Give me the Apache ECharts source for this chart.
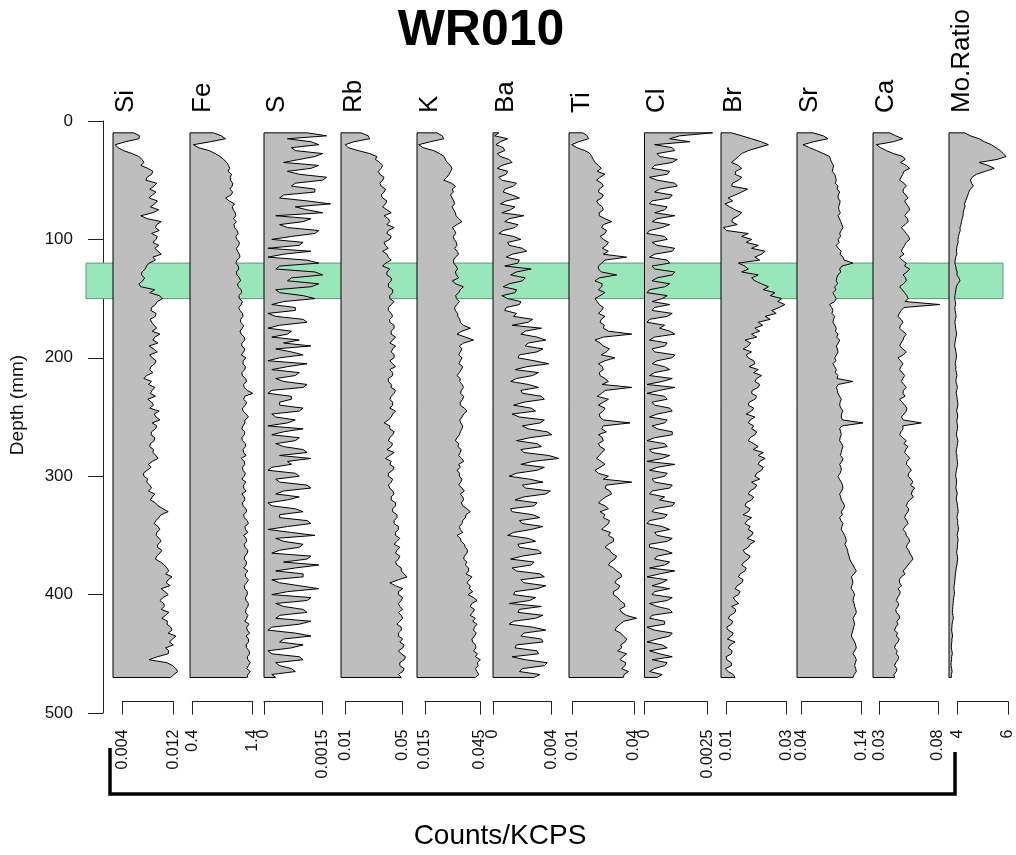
<!DOCTYPE html>
<html>
<head>
<meta charset="utf-8">
<script src="https://cdn.jsdelivr.net/npm/echarts@6/dist/echarts.min.js"></script>
<style>
html,body{margin:0;padding:0;background:#fff;}
#chart{width:1016px;height:855px;}
</style>
</head>
<body>
<div id="chart"></div>
<script>
// ---------------- DATA (scan every 2.5 mm) ----------------
const title = 'WR010';
const depth = [10,12.5,15,17.5,20,22.5,25,27.5,30,32.5,35,37.5,40,42.5,45,47.5,50,52.5,55,57.5,
  60,62.5,65,67.5,70,72.5,75,77.5,80,82.5,85,87.5,90,92.5,95,97.5,100,102.5,105,107.5,
  110,112.5,115,117.5,120,122.5,125,127.5,130,132.5,135,137.5,140,142.5,145,147.5,150,152.5,155,157.5,
  160,162.5,165,167.5,170,172.5,175,177.5,180,182.5,185,187.5,190,192.5,195,197.5,200,202.5,205,207.5,
  210,212.5,215,217.5,220,222.5,225,227.5,230,232.5,235,237.5,240,242.5,245,247.5,250,252.5,255,257.5,
  260,262.5,265,267.5,270,272.5,275,277.5,280,282.5,285,287.5,290,292.5,295,297.5,300,302.5,305,307.5,
  310,312.5,315,317.5,320,322.5,325,327.5,330,332.5,335,337.5,340,342.5,345,347.5,350,352.5,355,357.5,
  360,362.5,365,367.5,370,372.5,375,377.5,380,382.5,385,387.5,390,392.5,395,397.5,400,402.5,405,407.5,
  410,412.5,415,417.5,420,422.5,425,427.5,430,432.5,435,437.5,440,442.5,445,447.5,450,452.5,455,457.5,
  460,462.5,465,467.5,470];

const Si = [0.0058,0.0067,0.0066,0.0045,0.0029,0.0033,0.0042,0.0055,0.0066,0.0071,0.0074,0.0069,0.0080,0.0088,0.0086,0.0079,0.0077,0.0094,0.0090,0.0083,
  0.0093,0.0087,0.0082,0.0095,0.0091,0.0084,0.0097,0.0088,0.0069,0.0079,0.0101,0.0094,0.0092,0.0098,0.0086,0.0095,0.0093,0.0088,0.0097,0.0091,
  0.0096,0.0101,0.0088,0.0092,0.0082,0.0078,0.0076,0.0071,0.0070,0.0075,0.0072,0.0066,0.0069,0.0091,0.0083,0.0098,0.0103,0.0095,0.0092,0.0086,
  0.0085,0.0093,0.0092,0.0084,0.0086,0.0090,0.0094,0.0087,0.0099,0.0091,0.0088,0.0096,0.0082,0.0089,0.0095,0.0083,0.0087,0.0093,0.0091,0.0085,
  0.0083,0.0088,0.0078,0.0074,0.0086,0.0081,0.0091,0.0087,0.0084,0.0092,0.0080,0.0086,0.0089,0.0083,0.0098,0.0090,0.0093,0.0099,0.0087,0.0094,
  0.0092,0.0086,0.0085,0.0091,0.0090,0.0084,0.0083,0.0089,0.0088,0.0093,0.0096,0.0087,0.0081,0.0085,0.0079,0.0073,0.0074,0.0080,0.0078,0.0083,
  0.0086,0.0081,0.0091,0.0087,0.0084,0.0092,0.0096,0.0104,0.0112,0.0101,0.0097,0.0093,0.0090,0.0096,0.0099,0.0094,0.0093,0.0098,0.0101,0.0096,
  0.0095,0.0102,0.0099,0.0094,0.0092,0.0100,0.0106,0.0110,0.0113,0.0108,0.0118,0.0112,0.0109,0.0115,0.0101,0.0107,0.0112,0.0104,0.0099,0.0105,
  0.0106,0.0101,0.0113,0.0108,0.0102,0.0111,0.0110,0.0116,0.0118,0.0112,0.0124,0.0119,0.0114,0.0120,0.0108,0.0113,0.0112,0.0095,0.0082,0.0110,
  0.0119,0.0124,0.0127,0.0121,0.0116];

const Fe = [0.75,0.88,0.95,0.70,0.42,0.50,0.68,0.78,0.86,0.92,0.97,1.00,1.02,0.99,1.05,1.03,1.03,1.07,1.06,1.02,
  1.07,1.04,0.95,1.01,1.10,1.06,1.08,1.11,1.12,1.08,1.13,1.09,1.10,1.14,1.16,1.12,1.14,1.18,1.17,1.13,
  1.15,1.18,1.19,1.14,1.12,1.16,1.17,1.13,1.14,1.18,1.20,1.15,1.16,1.21,1.22,1.17,1.18,1.23,1.21,1.17,
  1.19,1.23,1.24,1.20,1.20,1.25,1.23,1.19,1.21,1.26,1.27,1.22,1.22,1.27,1.25,1.21,1.29,1.24,1.24,1.28,
  1.27,1.22,1.23,1.28,1.30,1.25,1.26,1.31,1.40,1.27,1.25,1.30,1.28,1.23,1.24,1.29,1.33,1.27,1.27,1.24,
  1.22,1.27,1.26,1.22,1.23,1.28,1.28,1.24,1.25,1.29,1.21,1.26,1.27,1.23,1.24,1.28,1.26,1.22,1.29,1.25,
  1.25,1.29,1.22,1.26,1.27,1.23,1.24,1.29,1.30,1.25,1.26,1.31,1.33,1.27,1.28,1.32,1.25,1.29,1.30,1.26,
  1.27,1.32,1.31,1.27,1.26,1.30,1.29,1.25,1.32,1.28,1.28,1.33,1.30,1.26,1.27,1.31,1.31,1.28,1.29,1.33,
  1.32,1.29,1.28,1.32,1.30,1.27,1.34,1.30,1.31,1.35,1.29,1.33,1.33,1.29,1.30,1.34,1.35,1.31,1.32,1.36,
  1.33,1.30,1.36,1.32,1.31];

const S = [0.0011,0.0016,0.0006,0.0012,0.0014,0.0007,0.0008,0.0015,0.0013,0.0009,0.0005,0.0014,0.0012,0.0006,0.0009,0.0016,0.0015,0.0008,0.0007,0.0013,
  0.0013,0.0005,0.0004,0.0011,0.0017,0.0008,0.0011,0.0015,0.0003,0.0012,0.0010,0.0004,0.0006,0.0014,0.0013,0.0007,0.0002,0.0010,0.0009,0.0001,
  0.0012,0.0005,0.0001,0.0011,0.0014,0.0004,0.0003,0.0013,0.0015,0.0007,0.0006,0.0014,0.0012,0.0003,0.0004,0.0010,0.0013,0.0005,0.0002,0.0008,
  0.0008,0.0001,0.0003,0.0010,0.0011,0.0004,0.0001,0.0007,0.0006,0.0002,0.0009,0.0005,0.0012,0.0003,0.0007,0.0010,0.0004,0.0001,0.0011,0.0006,
  0.0002,0.0009,0.0008,0.0003,0.0005,0.0011,0.0010,0.0002,0.0001,0.0007,0.0007,0.0004,0.0004,0.0010,0.0009,0.0002,0.0003,0.0008,0.0006,0.0001,
  0.0010,0.0005,0.0002,0.0009,0.0008,0.0003,0.0005,0.0010,0.0011,0.0004,0.0012,0.0006,0.0007,0.0002,0.0001,0.0008,0.0009,0.0003,0.0004,0.0011,
  0.0012,0.0005,0.0003,0.0009,0.0006,0.0001,0.0002,0.0008,0.0010,0.0004,0.0004,0.0011,0.0012,0.0006,0.0001,0.0007,0.0013,0.0003,0.0005,0.0010,
  0.0009,0.0004,0.0002,0.0012,0.0011,0.0005,0.0014,0.0008,0.0003,0.0010,0.0010,0.0002,0.0004,0.0009,0.0014,0.0006,0.0002,0.0012,0.0011,0.0003,
  0.0005,0.0010,0.0011,0.0004,0.0003,0.0012,0.0009,0.0002,0.0001,0.0008,0.0012,0.0005,0.0004,0.0010,0.0007,0.0001,0.0002,0.0009,0.0010,0.0003,
  0.0004,0.0007,0.0008,0.0002,0.0003];

const Rb = [0.021,0.026,0.027,0.016,0.010,0.012,0.019,0.027,0.032,0.031,0.034,0.036,0.035,0.033,0.034,0.037,0.036,0.034,0.035,0.038,
  0.037,0.035,0.036,0.039,0.038,0.036,0.039,0.042,0.037,0.040,0.041,0.039,0.044,0.040,0.039,0.042,0.041,0.037,0.038,0.040,
  0.036,0.039,0.040,0.042,0.038,0.036,0.041,0.039,0.039,0.042,0.042,0.040,0.040,0.043,0.043,0.041,0.041,0.044,0.042,0.040,
  0.040,0.042,0.043,0.041,0.041,0.044,0.044,0.042,0.042,0.045,0.043,0.041,0.045,0.043,0.042,0.044,0.044,0.041,0.043,0.045,
  0.041,0.043,0.043,0.040,0.040,0.042,0.042,0.045,0.044,0.042,0.041,0.043,0.043,0.041,0.045,0.043,0.042,0.040,0.037,0.041,
  0.041,0.044,0.043,0.041,0.040,0.043,0.042,0.039,0.044,0.041,0.038,0.042,0.041,0.044,0.043,0.040,0.040,0.043,0.042,0.040,
  0.041,0.043,0.044,0.042,0.042,0.045,0.045,0.043,0.043,0.046,0.046,0.044,0.044,0.047,0.047,0.045,0.045,0.048,0.046,0.044,
  0.048,0.046,0.045,0.048,0.047,0.045,0.046,0.049,0.049,0.051,0.053,0.047,0.041,0.045,0.050,0.047,0.047,0.050,0.049,0.047,
  0.048,0.050,0.047,0.049,0.050,0.048,0.046,0.049,0.049,0.047,0.047,0.050,0.048,0.051,0.050,0.047,0.049,0.052,0.051,0.048,
  0.048,0.051,0.050,0.047,0.049];

const K = [0.0216,0.0245,0.0253,0.0180,0.0117,0.0140,0.0198,0.0230,0.0255,0.0262,0.0271,0.0289,0.0298,0.0290,0.0282,0.0270,0.0253,0.0295,0.0316,0.0300,
  0.0305,0.0290,0.0298,0.0307,0.0312,0.0298,0.0307,0.0316,0.0320,0.0334,0.0352,0.0325,0.0300,0.0312,0.0318,0.0305,0.0310,0.0322,0.0325,0.0312,
  0.0325,0.0334,0.0316,0.0305,0.0307,0.0320,0.0328,0.0316,0.0322,0.0334,0.0300,0.0316,0.0360,0.0343,0.0334,0.0318,0.0322,0.0338,0.0325,0.0312,
  0.0316,0.0328,0.0330,0.0340,0.0343,0.0360,0.0397,0.0352,0.0325,0.0370,0.0415,0.0361,0.0338,0.0352,0.0343,0.0334,0.0352,0.0343,0.0336,0.0356,
  0.0348,0.0338,0.0325,0.0343,0.0340,0.0352,0.0361,0.0348,0.0345,0.0361,0.0356,0.0343,0.0343,0.0365,0.0379,0.0361,0.0352,0.0340,0.0345,0.0356,
  0.0352,0.0343,0.0338,0.0325,0.0316,0.0334,0.0330,0.0348,0.0343,0.0334,0.0350,0.0361,0.0334,0.0343,0.0325,0.0338,0.0338,0.0352,0.0345,0.0334,
  0.0352,0.0365,0.0343,0.0356,0.0361,0.0348,0.0356,0.0379,0.0397,0.0374,0.0370,0.0356,0.0352,0.0338,0.0343,0.0356,0.0325,0.0343,0.0348,0.0365,
  0.0370,0.0383,0.0379,0.0365,0.0361,0.0379,0.0370,0.0388,0.0388,0.0374,0.0406,0.0392,0.0379,0.0397,0.0392,0.0410,0.0385,0.0415,0.0434,0.0406,
  0.0397,0.0420,0.0410,0.0397,0.0425,0.0410,0.0434,0.0420,0.0415,0.0430,0.0420,0.0406,0.0410,0.0425,0.0428,0.0415,0.0436,0.0425,0.0452,0.0436,
  0.0440,0.0425,0.0434,0.0443,0.0425];

const Ba = [0.0004,0.0001,0.0010,0.0005,0.0002,0.0007,0.0008,0.0003,0.0005,0.0011,0.0013,0.0006,0.0003,0.0010,0.0009,0.0004,0.0006,0.0016,0.0014,0.0008,
  0.0007,0.0013,0.0018,0.0009,0.0005,0.0015,0.0012,0.0006,0.0021,0.0011,0.0008,0.0017,0.0015,0.0007,0.0004,0.0014,0.0019,0.0010,0.0011,0.0020,
  0.0023,0.0013,0.0009,0.0018,0.0017,0.0008,0.0026,0.0016,0.0012,0.0022,0.0020,0.0011,0.0007,0.0016,0.0015,0.0006,0.0010,0.0019,0.0018,0.0009,
  0.0008,0.0016,0.0014,0.0027,0.0024,0.0013,0.0033,0.0022,0.0019,0.0030,0.0036,0.0024,0.0022,0.0034,0.0030,0.0018,0.0017,0.0028,0.0038,0.0023,
  0.0015,0.0031,0.0027,0.0016,0.0012,0.0024,0.0031,0.0019,0.0020,0.0033,0.0035,0.0021,0.0014,0.0026,0.0029,0.0013,0.0018,0.0035,0.0032,0.0020,
  0.0024,0.0037,0.0040,0.0025,0.0016,0.0030,0.0033,0.0019,0.0021,0.0038,0.0045,0.0027,0.0019,0.0035,0.0030,0.0016,0.0011,0.0025,0.0034,0.0020,
  0.0022,0.0039,0.0036,0.0021,0.0015,0.0030,0.0028,0.0012,0.0013,0.0027,0.0032,0.0018,0.0020,0.0034,0.0026,0.0014,0.0010,0.0024,0.0029,0.0017,
  0.0018,0.0031,0.0033,0.0020,0.0012,0.0028,0.0026,0.0013,0.0016,0.0032,0.0035,0.0019,0.0021,0.0036,0.0030,0.0015,0.0014,0.0029,0.0025,0.0011,
  0.0033,0.0018,0.0017,0.0034,0.0029,0.0014,0.0011,0.0027,0.0036,0.0021,0.0019,0.0033,0.0034,0.0016,0.0015,0.0030,0.0031,0.0013,0.0022,0.0037,
  0.0035,0.0020,0.0018,0.0032,0.0028];

const Ti = [0.0150,0.0172,0.0177,0.0130,0.0095,0.0120,0.0160,0.0185,0.0193,0.0201,0.0209,0.0226,0.0240,0.0220,0.0258,0.0234,0.0217,0.0242,0.0250,0.0230,
  0.0226,0.0250,0.0242,0.0217,0.0226,0.0245,0.0250,0.0230,0.0230,0.0258,0.0291,0.0250,0.0242,0.0266,0.0258,0.0234,0.0250,0.0275,0.0265,0.0245,
  0.0275,0.0250,0.0364,0.0258,0.0242,0.0226,0.0226,0.0240,0.0315,0.0230,0.0209,0.0245,0.0242,0.0226,0.0258,0.0234,0.0209,0.0220,0.0230,0.0250,
  0.0242,0.0226,0.0258,0.0240,0.0234,0.0255,0.0250,0.0275,0.0389,0.0250,0.0209,0.0234,0.0250,0.0280,0.0265,0.0240,0.0307,0.0258,0.0226,0.0245,
  0.0250,0.0230,0.0234,0.0258,0.0275,0.0245,0.0389,0.0260,0.0242,0.0220,0.0275,0.0250,0.0226,0.0258,0.0250,0.0230,0.0234,0.0250,0.0381,0.0250,
  0.0242,0.0265,0.0226,0.0245,0.0250,0.0226,0.0234,0.0258,0.0242,0.0230,0.0217,0.0240,0.0258,0.0234,0.0209,0.0226,0.0275,0.0250,0.0389,0.0265,
  0.0258,0.0282,0.0291,0.0262,0.0242,0.0226,0.0258,0.0275,0.0234,0.0258,0.0250,0.0280,0.0275,0.0258,0.0242,0.0285,0.0275,0.0300,0.0300,0.0275,
  0.0258,0.0282,0.0291,0.0315,0.0307,0.0285,0.0275,0.0300,0.0315,0.0336,0.0340,0.0315,0.0307,0.0330,0.0324,0.0300,0.0300,0.0320,0.0332,0.0352,
  0.0356,0.0330,0.0340,0.0362,0.0413,0.0350,0.0332,0.0315,0.0307,0.0335,0.0348,0.0365,0.0356,0.0335,0.0340,0.0320,0.0364,0.0345,0.0332,0.0360,
  0.0356,0.0340,0.0373,0.0352,0.0348];

const Cl = [0.0027,0.0014,0.0010,0.0018,0.0004,0.0011,0.0012,0.0005,0.0006,0.0013,0.0011,0.0004,0.0003,0.0010,0.0009,0.0002,0.0005,0.0012,0.0013,0.0006,
  0.0004,0.0011,0.0010,0.0003,0.0002,0.0009,0.0008,0.0004,0.0012,0.0005,0.0003,0.0010,0.0007,0.0002,0.0001,0.0008,0.0009,0.0003,0.0005,0.0012,
  0.0011,0.0004,0.0002,0.0009,0.0010,0.0003,0.0004,0.0012,0.0011,0.0005,0.0003,0.0010,0.0008,0.0002,0.0001,0.0009,0.0007,0.0003,0.0010,0.0004,
  0.0003,0.0011,0.0009,0.0002,0.0001,0.0008,0.0006,0.0010,0.0012,0.0004,0.0002,0.0009,0.0008,0.0003,0.0004,0.0012,0.0011,0.0005,0.0003,0.0008,
  0.0010,0.0004,0.0002,0.0011,0.0007,0.0001,0.0012,0.0006,0.0001,0.0008,0.0009,0.0003,0.0004,0.0010,0.0011,0.0005,0.0002,0.0009,0.0008,0.0003,
  0.0005,0.0011,0.0011,0.0004,0.0001,0.0008,0.0009,0.0002,0.0003,0.0010,0.0007,0.0001,0.0012,0.0005,0.0002,0.0009,0.0008,0.0003,0.0004,0.0011,
  0.0010,0.0003,0.0002,0.0008,0.0006,0.0012,0.0011,0.0004,0.0003,0.0009,0.0008,0.0002,0.0001,0.0007,0.0010,0.0004,0.0005,0.0011,0.0009,0.0002,
  0.0002,0.0008,0.0011,0.0005,0.0004,0.0010,0.0008,0.0002,0.0012,0.0006,0.0001,0.0009,0.0007,0.0003,0.0010,0.0004,0.0003,0.0011,0.0009,0.0002,
  0.0005,0.0010,0.0011,0.0003,0.0002,0.0008,0.0008,0.0001,0.0004,0.0011,0.0010,0.0005,0.0001,0.0007,0.0009,0.0002,0.0006,0.0011,0.0003,0.0009,
  0.0008,0.0004,0.0002,0.0007,0.0005];

const Br = [0.0116,0.0150,0.0183,0.0215,0.0239,0.0205,0.0172,0.0150,0.0139,0.0128,0.0116,0.0139,0.0150,0.0130,0.0128,0.0150,0.0139,0.0120,0.0116,0.0170,
  0.0150,0.0128,0.0105,0.0120,0.0094,0.0110,0.0128,0.0150,0.0139,0.0120,0.0117,0.0135,0.0089,0.0100,0.0172,0.0150,0.0183,0.0165,0.0205,0.0183,
  0.0228,0.0216,0.0194,0.0210,0.0139,0.0160,0.0172,0.0150,0.0205,0.0183,0.0194,0.0216,0.0239,0.0222,0.0261,0.0245,0.0283,0.0270,0.0294,0.0275,
  0.0250,0.0265,0.0228,0.0245,0.0205,0.0220,0.0194,0.0210,0.0183,0.0200,0.0161,0.0180,0.0172,0.0155,0.0183,0.0165,0.0172,0.0190,0.0194,0.0175,
  0.0205,0.0190,0.0216,0.0200,0.0194,0.0210,0.0205,0.0185,0.0183,0.0200,0.0194,0.0175,0.0172,0.0190,0.0183,0.0165,0.0194,0.0178,0.0172,0.0190,
  0.0183,0.0200,0.0194,0.0178,0.0172,0.0190,0.0205,0.0188,0.0222,0.0205,0.0228,0.0210,0.0205,0.0222,0.0216,0.0200,0.0194,0.0210,0.0183,0.0200,
  0.0194,0.0178,0.0172,0.0190,0.0183,0.0165,0.0161,0.0178,0.0172,0.0155,0.0183,0.0168,0.0161,0.0178,0.0172,0.0188,0.0183,0.0168,0.0194,0.0178,
  0.0172,0.0155,0.0161,0.0178,0.0172,0.0158,0.0150,0.0165,0.0161,0.0145,0.0139,0.0155,0.0150,0.0135,0.0128,0.0145,0.0139,0.0122,0.0128,0.0140,
  0.0116,0.0130,0.0128,0.0112,0.0105,0.0120,0.0116,0.0100,0.0105,0.0122,0.0116,0.0102,0.0128,0.0112,0.0105,0.0118,0.0116,0.0098,0.0100,0.0115,
  0.0116,0.0095,0.0105,0.0122,0.0128];

const Sr = [0.0588,0.0760,0.0838,0.0600,0.0422,0.0530,0.0650,0.0760,0.0866,0.0880,0.0900,0.0930,0.0922,0.0910,0.0950,0.0965,0.0977,0.0960,0.1005,0.0990,
  0.1033,0.1010,0.1005,0.1040,0.1033,0.1015,0.1020,0.1045,0.1005,0.1030,0.1050,0.1070,0.1088,0.1060,0.1033,0.1050,0.1005,0.1025,0.0977,0.1010,
  0.1060,0.1040,0.1088,0.1110,0.1255,0.1070,0.1033,0.1050,0.1005,0.0985,0.0977,0.1000,0.0950,0.0970,0.0922,0.0945,0.0977,0.0950,0.0866,0.0900,
  0.0922,0.0905,0.0950,0.0930,0.0922,0.0950,0.0977,0.0960,0.1005,0.0985,0.1033,0.1010,0.0977,0.0995,0.1005,0.0980,0.0950,0.0970,0.0922,0.0950,
  0.0977,0.0960,0.1005,0.0990,0.1255,0.1010,0.0977,0.0995,0.1005,0.1030,0.1060,0.1040,0.1033,0.1055,0.1088,0.1065,0.1060,0.1080,0.1422,0.1070,
  0.1033,0.1050,0.1060,0.1040,0.1033,0.1065,0.1088,0.1070,0.1060,0.1045,0.1088,0.1070,0.1033,0.1055,0.1060,0.1040,0.1005,0.1030,0.1060,0.1080,
  0.1088,0.1065,0.1033,0.1050,0.1060,0.1090,0.1116,0.1095,0.1060,0.1080,0.1033,0.1055,0.1088,0.1070,0.1060,0.1090,0.1116,0.1135,0.1144,0.1120,
  0.1144,0.1165,0.1172,0.1190,0.1200,0.1225,0.1255,0.1280,0.1311,0.1270,0.1227,0.1245,0.1255,0.1235,0.1227,0.1260,0.1283,0.1265,0.1255,0.1275,
  0.1283,0.1300,0.1311,0.1285,0.1255,0.1270,0.1283,0.1265,0.1255,0.1240,0.1227,0.1255,0.1283,0.1300,0.1311,0.1280,0.1255,0.1290,0.1311,0.1295,
  0.1283,0.1300,0.1311,0.1275,0.1255];

const Ca = [0.0388,0.0440,0.0500,0.0420,0.0275,0.0310,0.0360,0.0420,0.0502,0.0520,0.0480,0.0530,0.0559,0.0510,0.0500,0.0485,0.0473,0.0510,0.0530,0.0505,
  0.0502,0.0525,0.0545,0.0515,0.0530,0.0550,0.0559,0.0535,0.0516,0.0540,0.0545,0.0520,0.0488,0.0510,0.0530,0.0550,0.0559,0.0530,0.0516,0.0500,
  0.0488,0.0510,0.0473,0.0495,0.0530,0.0515,0.0559,0.0535,0.0502,0.0525,0.0530,0.0505,0.0473,0.0495,0.0516,0.0535,0.0545,0.0520,0.0814,0.0510,
  0.0488,0.0470,0.0459,0.0485,0.0502,0.0480,0.0473,0.0500,0.0530,0.0510,0.0502,0.0485,0.0473,0.0500,0.0530,0.0505,0.0459,0.0480,0.0502,0.0485,
  0.0473,0.0495,0.0516,0.0500,0.0488,0.0510,0.0530,0.0505,0.0502,0.0520,0.0473,0.0495,0.0516,0.0535,0.0530,0.0510,0.0488,0.0505,0.0658,0.0500,
  0.0502,0.0485,0.0473,0.0500,0.0530,0.0510,0.0545,0.0525,0.0516,0.0540,0.0559,0.0535,0.0530,0.0555,0.0573,0.0550,0.0545,0.0570,0.0587,0.0565,
  0.0601,0.0580,0.0573,0.0590,0.0559,0.0540,0.0530,0.0550,0.0545,0.0525,0.0516,0.0535,0.0545,0.0520,0.0502,0.0525,0.0530,0.0550,0.0559,0.0540,
  0.0530,0.0550,0.0559,0.0575,0.0587,0.0565,0.0545,0.0525,0.0502,0.0520,0.0488,0.0470,0.0473,0.0490,0.0459,0.0478,0.0473,0.0455,0.0445,0.0465,
  0.0459,0.0440,0.0445,0.0468,0.0473,0.0450,0.0459,0.0440,0.0430,0.0455,0.0445,0.0470,0.0459,0.0438,0.0430,0.0452,0.0445,0.0465,0.0459,0.0440,
  0.0430,0.0450,0.0445,0.0425,0.0430];

const MoRatio = [4.32,4.55,4.90,5.10,5.38,5.55,5.73,5.85,5.96,5.60,4.90,5.25,5.49,5.15,4.79,4.62,4.55,4.60,4.67,4.55,
  4.49,4.45,4.41,4.36,4.32,4.34,4.29,4.27,4.26,4.23,4.20,4.18,4.14,4.15,4.11,4.08,4.06,4.07,4.03,4.01,
  4.00,4.02,3.97,3.95,3.94,3.97,3.99,4.03,4.02,4.10,4.14,4.05,4.00,3.98,3.96,3.94,3.93,3.96,3.97,3.94,
  3.95,3.97,3.99,3.96,3.94,3.96,3.97,3.99,4.01,3.98,3.96,3.94,3.93,3.96,3.98,4.00,4.00,3.97,3.95,3.98,
  3.97,4.00,4.02,3.99,3.98,4.01,4.04,4.01,3.99,4.02,4.03,4.05,4.06,4.03,4.01,4.04,4.05,4.02,4.02,4.05,
  4.04,4.01,4.00,4.03,4.06,4.04,4.03,4.00,3.99,4.02,4.02,4.04,4.05,4.02,4.00,3.98,3.97,4.00,4.01,3.99,
  3.98,4.01,4.03,4.00,4.00,4.03,4.04,4.06,4.07,4.04,4.02,4.05,4.05,4.07,4.08,4.05,4.03,4.06,4.06,4.04,
  4.04,4.02,4.01,4.04,4.05,4.03,4.02,3.99,3.98,3.96,3.95,3.94,3.93,3.91,3.90,3.92,3.92,3.89,3.88,3.87,
  3.86,3.85,3.84,3.86,3.88,3.85,3.83,3.82,3.81,3.83,3.85,3.82,3.82,3.80,3.80,3.82,3.84,3.81,3.81,3.79,
  3.79,3.81,3.83,3.80,3.80];

const elementNames = ['Si','Fe','S','Rb','K','Ba','Ti','Cl','Br','Sr','Ca','Mo.Ratio'];
const elementValues = [Si, Fe, S, Rb, K, Ba, Ti, Cl, Br, Sr, Ca, MoRatio];
// x-range of each panel (value at the left and right edge of the panel)
const xRanges = [[0.00254,0.01431],[0.362,1.6037],[0,0.0019165],[0.007,0.059265],
  [0.01076,0.051521],[0,0.005111],[0.0082,0.044911],[0,0.002976],
  [0.0081,0.0331],[0.0322,0.1572],[0.02463,0.08851],[3.707,6.3525]];
const tickValues = [[0.004,0.012],[0.4,1.4],[0,0.0015],[0.01,0.05],[0.015,0.045],[0,0.004],
  [0.01,0.04],[0,0.0025],[0.01,0.03],[0.04,0.14],[0.03,0.08],[4,6]];
const tickLabels = [['0.004','0.012'],['0.4','1.4'],['0','0.0015'],['0.01','0.05'],['0.015','0.045'],['0','0.004'],
  ['0.01','0.04'],['0','0.0025'],['0.01','0.03'],['0.04','0.14'],['0.03','0.08'],['4','6']];
const depthTicks = [0, 100, 200, 300, 400, 500];
const bandDepth = [120, 150];
const xAxisTitle = 'Counts/KCPS';
const yAxisTitle = 'Depth (mm)';

// ---------------- LAYOUT ----------------
const FONT = '"Liberation Sans", Arial, Helvetica, sans-serif';
const panelLeft = [113,190,264,341,417,493,569,644.5,721,797,873,949];
const PW = 75, TOP = 121, PH = 592;

elementValues.forEach((v, i) => { if (v.length !== depth.length) console.error('length mismatch', elementNames[i], v.length); });

const grid = [], xAxis = [], yAxis = [], series = [], graphic = [];
let gi = 0;

function addGrid(g, xa, ya) {
  grid.push(g);
  xa.gridIndex = gi; ya.gridIndex = gi;
  xAxis.push(xa); yAxis.push(ya);
  return gi++;
}
const hiddenAxis = (o) => Object.assign({type:'value', show:false, splitLine:{show:false}}, o);

// band grid
const bandIdx = addGrid({left:86, top:TOP, width:917, height:PH},
  hiddenAxis({min:0, max:1}), hiddenAxis({min:0, max:500, inverse:true}));
series.push({
  type:'custom', xAxisIndex:bandIdx, yAxisIndex:bandIdx, z:1, silent:true,
  data:[[0, bandDepth[0], 1, bandDepth[1]]],
  renderItem:(params, api) => {
    const a = api.coord([api.value(0), api.value(1)]);
    const b = api.coord([api.value(2), api.value(3)]);
    return {type:'rect', shape:{x:a[0], y:a[1], width:b[0]-a[0], height:b[1]-a[1]},
      style:{fill:'#9ae6bb', stroke:'#5c9c74', lineWidth:1}};
  }
});

// depth axis grid
addGrid({left:103, top:TOP, width:8, height:PH},
  hiddenAxis({min:0, max:1}),
  {type:'value', min:depthTicks[0], max:depthTicks[depthTicks.length-1], interval:100, inverse:true, position:'left',
   axisLine:{show:true, lineStyle:{color:'#222', width:1}},
   axisTick:{show:true, inside:false, length:15, lineStyle:{color:'#222', width:1}},
   axisLabel:{show:true, margin:30, fontSize:17, color:'#111', fontFamily:FONT},
   splitLine:{show:false}});

elementNames.forEach((name, i) => {
  const L = panelLeft[i];
  const [mn, mx] = xRanges[i];
  const vals = elementValues[i];
  const di = addGrid({left:L, top:TOP, width:PW, height:PH},
    hiddenAxis({min:mn, max:mx}), hiddenAxis({min:0, max:500, inverse:true}));
  series.push({
    type:'custom', xAxisIndex:di, yAxisIndex:di, z:3, silent:true,
    data:[[mn, depth[0]]],
    renderItem:(params, api) => {
      const pts = [api.coord([mn, depth[0]])];
      for (let j = 0; j < vals.length; j++) pts.push(api.coord([vals[j], depth[j]]));
      pts.push(api.coord([mn, depth[depth.length-1]]));
      return {type:'polygon', shape:{points:pts},
        style:{fill:'#bebebe', stroke:'#000', lineWidth:1, lineJoin:'miter'}};
    }
  });
  // bracket axis below panel
  const [t1, t2] = tickValues[i];
  const p1 = L + (t1 - mn) / (mx - mn) * PW;
  const p2 = L + (t2 - mn) / (mx - mn) * PW;
  const labs = tickLabels[i];
  addGrid({left:p1, top:690, width:p2 - p1, height:11.5},
    {type:'value', min:t1, max:t2, position:'bottom',
     axisLine:{show:true, lineStyle:{color:'#222', width:1}},
     axisTick:{show:true, inside:false, length:13, customValues:[t1, t2], lineStyle:{color:'#222', width:1}},
     axisLabel:{show:true, rotate:90, margin:28, fontSize:16, color:'#111', fontFamily:FONT,
       customValues:[t1, t2], hideOverlap:false,
       formatter:(v) => Math.abs(v - t1) < Math.abs(v - t2) ? labs[0] : labs[1]},
     splitLine:{show:false}},
    hiddenAxis({min:0, max:1}));
  // element name
  graphic.push({type:'text', x:L + 12.5, y:113, rotation:Math.PI/2, silent:true,
    style:{text:name, fontSize:26, fontFamily:FONT, fill:'#000', align:'left', verticalAlign:'middle',
      textAlign:'left', textVerticalAlign:'middle'}});
});

graphic.push({type:'text', x:481, y:31, silent:true,
  style:{text:title, fontSize:50, fontWeight:'bold', fontFamily:FONT, fill:'#000',
    align:'center', verticalAlign:'middle', textAlign:'center', textVerticalAlign:'middle'}});
graphic.push({type:'text', x:18, y:405, rotation:Math.PI/2, silent:true,
  style:{text:yAxisTitle, fontSize:19, fontFamily:FONT, fill:'#111',
    align:'center', verticalAlign:'middle', textAlign:'center', textVerticalAlign:'middle'}});
graphic.push({type:'text', x:500, y:836, silent:true,
  style:{text:xAxisTitle, fontSize:28, fontFamily:FONT, fill:'#000',
    align:'center', verticalAlign:'middle', textAlign:'center', textVerticalAlign:'middle'}});
graphic.push({type:'polyline', silent:true,
  shape:{points:[[110,748],[110,794],[955,794],[955,752]]},
  style:{stroke:'#000', lineWidth:3.5, fill:null}});

const chart = echarts.init(document.getElementById('chart'), null, {renderer:'canvas'});
chart.setOption({
  animation:false,
  backgroundColor:'#fff',
  grid, xAxis, yAxis, series, graphic
});
</script>
</body>
</html>
